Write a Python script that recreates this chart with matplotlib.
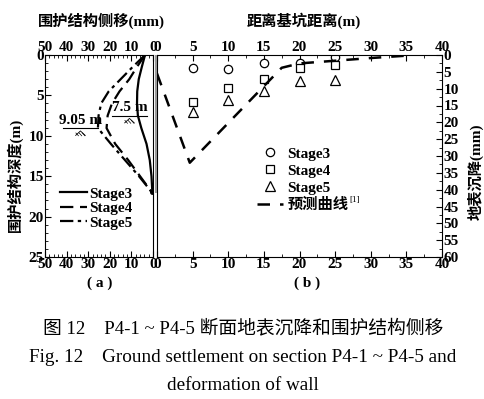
import numpy as np
import matplotlib
matplotlib.use("Agg")
import matplotlib.pyplot as plt
from matplotlib.patches import Rectangle
from matplotlib.ticker import MultipleLocator

plt.rcParams['font.family'] = ['Liberation Serif', 'Noto Sans CJK SC']

# ── Data ──────────────────────────────────────────────────────────────────────
# (a) wall lateral displacement (mm) vs depth (m)
depth = [0, 1.5, 3, 4.5, 6, 7.5, 9.05, 11, 13, 15, 17]
stage3_disp = [3.7, 5.2, 6.6, 7.3, 7.4, 7.0, 5.4, 3.0, 1.5, 0.7, 0.3]
stage4_disp = [3.7, 7.5, 11.0, 15.5, 19.0, 21.0, 21.5, 17.5, 11.5, 6.0, 0.5]
stage5_disp = [3.7, 9.5, 15.0, 20.5, 24.0, 25.2, 25.5, 19.5, 13.0, 6.5, 0.5]

# (b) ground settlement (mm) vs distance from pit (m)
dist_meas = [5, 10, 15, 20, 25]
settle_s3 = [4.0, 4.2, 2.3, 2.3, 0.5]
settle_s4 = [13.9, 9.7, 7.1, 3.8, 3.1]
settle_s5 = [17.0, 13.4, 10.6, 7.6, 7.3]
dist_pred = [0, 4.6, 17.5, 20, 25, 30, 35]
settle_pred = [5.5, 32.0, 3.8, 2.5, 1.7, 0.9, 0.2]

W, H = 484, 399
fig = plt.figure(figsize=(W / 100, H / 100), dpi=100)


def px_axes(l, r, t, b):
    return fig.add_axes([l / W, 1 - b / H, (r - l) / W, (b - t) / H])


ax_a = px_axes(45, 153, 55, 257)
ax_b = px_axes(157, 442, 55, 257)

# ── Panel (a) ─────────────────────────────────────────────────────────────────
ax_a.plot(stage3_disp, depth, color="black", lw=1.6, label="Stage3")
ax_a.plot(stage4_disp, depth, color="black", lw=1.6, dashes=(6, 3), label="Stage4")
ax_a.plot(stage5_disp, depth, color="black", lw=1.6, dashes=(6, 2, 1.5, 2), label="Stage5")
ax_a.plot([0.5], [17], "o", color="black", ms=2.5)

ax_a.set_xlim(50, 0)
ax_a.set_ylim(25, 0)
ax_a.set_xticks([50, 40, 30, 20, 10, 0])
ax_a.set_yticks([0, 5, 10, 15, 20, 25])
ax_a.xaxis.set_minor_locator(MultipleLocator(2))
ax_a.yaxis.set_minor_locator(MultipleLocator(1))
ax_a.tick_params(axis="x", which="both", direction="in", top=True, bottom=True,
                 labeltop=True, labelbottom=True, pad=1)
ax_a.tick_params(axis="y", which="both", direction="in", left=True, right=False, pad=1)
ax_a.tick_params(which="major", length=4)
ax_a.tick_params(which="minor", length=2)
for lab in ax_a.get_xticklabels() + ax_a.get_yticklabels():
    lab.set_fontsize(11)
    lab.set_fontweight("bold")

# excavation level markers
for lev, x0, x1, txt in [(9.05, 41.7, 25.5, "9.05 m"), (7.5, 19.0, 2.8, "7.5 m")]:
    ax_a.plot([x0, x1], [lev, lev], color="black", lw=0.8)
    ax_a.text((x0 + x1) / 2, lev - 0.15, txt, ha="center", va="bottom",
              fontsize=11, fontweight="bold")
    xc = (x0 + x1) / 2
    ax_a.plot([xc - 2.2, xc, xc + 2.2], [lev + 0.9, lev + 0.35, lev + 0.9],
              color="black", lw=0.6)
    for dx in (-1.5, 0, 1.5):
        ax_a.plot([xc + dx - 0.6, xc + dx + 0.6], [lev + 0.95, lev + 0.6],
                  color="black", lw=0.5)

ax_a.legend(loc="upper left", bbox_to_anchor=((60 - 45) / 108, 1 - (187 - 55) / 202),
            frameon=False, handlelength=1.75, handletextpad=0.15,
            labelspacing=0.05, borderpad=0, borderaxespad=0,
            prop=dict(size=11, weight="bold"))

# ── Panel (b) ─────────────────────────────────────────────────────────────────
ax_b.plot(dist_meas, settle_s3, "o", ms=6, mfc="white", mec="black", mew=0.9,
          ls="none", label="Stage3")
ax_b.plot(dist_meas, settle_s4, "s", ms=5.5, mfc="white", mec="black", mew=0.9,
          ls="none", label="Stage4")
ax_b.plot(dist_meas, settle_s5, "^", ms=6.5, mfc="white", mec="black", mew=0.9,
          ls="none", label="Stage5")
ax_b.plot(dist_pred, settle_pred, color="black", lw=1.8, dashes=(5, 4),
          label="预测曲线")

ax_b.set_xlim(0, 40)
ax_b.set_ylim(60, 0)
ax_b.set_xticks(range(0, 41, 5))
ax_b.set_yticks(range(0, 61, 5))
ax_b.xaxis.set_minor_locator(MultipleLocator(2.5))
ax_b.yaxis.set_minor_locator(MultipleLocator(2.5))
ax_b.yaxis.tick_right()
ax_b.tick_params(axis="x", which="both", direction="in", top=True, bottom=True,
                 labeltop=True, labelbottom=True, pad=1)
ax_b.tick_params(axis="y", which="both", direction="in", left=False, right=True,
                 labelright=True, labelleft=False, pad=1)
ax_b.tick_params(which="major", length=4)
ax_b.tick_params(which="minor", length=2)
for lab in ax_b.get_xticklabels() + ax_b.get_yticklabels():
    lab.set_fontsize(11)
    lab.set_fontweight("bold")

ax_b.legend(loc="upper left", bbox_to_anchor=((257 - 157) / 285, 1 - (147 - 55) / 202),
            frameon=False, handlelength=1.7, handletextpad=0.3,
            labelspacing=0.22, borderpad=0, borderaxespad=0,
            prop=dict(size=11, weight="bold"))
fig.text(349 / W, 1 - 200 / H, "[1]", ha="left", va="center", fontsize=6.5)

# ── Wall between panels ───────────────────────────────────────────────────────
fig.patches.append(Rectangle((154.5 / W, 1 - 193 / H), 2.5 / W, (193 - 55) / H,
                             transform=fig.transFigure, facecolor="#999999",
                             edgecolor="none", zorder=0))

# ── Titles and labels ─────────────────────────────────────────────────────────
fig.text(101 / W, 1 - 21 / H, "围护结构侧移(mm)", ha="center", va="center",
         fontsize=11, fontweight="bold")
fig.text(304 / W, 1 - 21 / H, "距离基坑距离(m)", ha="center", va="center",
         fontsize=11, fontweight="bold")
fig.text(15 / W, 1 - 175 / H, "围护结构深度(m)", ha="center", va="center",
         rotation=90, fontsize=11, fontweight="bold")
fig.text(476 / W, 1 - 172 / H, "地表沉降(mm)", ha="center", va="center",
         rotation=90, fontsize=11, fontweight="bold")
fig.text(100 / W, 1 - 283 / H, "( a )", ha="center", va="center",
         fontsize=11, fontweight="bold")
fig.text(307 / W, 1 - 283 / H, "( b )", ha="center", va="center",
         fontsize=11, fontweight="bold")

fig.text(243 / W, 1 - 328 / H, "图 12    P4-1 ~ P4-5 断面地表沉降和围护结构侧移",
         ha="center", va="center", fontsize=13.5)
fig.text(243 / W, 1 - 358 / H, "Fig. 12    Ground settlement on section P4-1 ~ P4-5 and",
         ha="center", va="center", fontsize=13.8)
fig.text(243 / W, 1 - 385 / H, "deformation of wall",
         ha="center", va="center", fontsize=13.8)

fig.savefig("out.png", dpi=100)
